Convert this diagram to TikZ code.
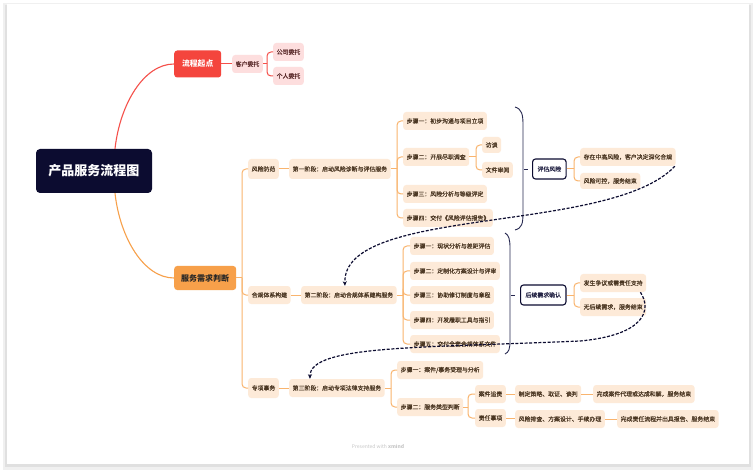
\documentclass[tikz,border=0pt]{standalone}
\usepackage{fontspec}
\setmainfont{Noto Sans CJK SC}
\newfontfamily\cjkmed{Noto Sans CJK SC}[FakeBold=0.45]
\usetikzlibrary{arrows.meta}
\definecolor{navy}{HTML}{0C0C30}
\definecolor{brknavy}{HTML}{262850}
\definecolor{redmain}{HTML}{F4453D}
\definecolor{redline}{HTML}{F5504A}
\definecolor{pinkfill}{HTML}{FDDEDE}
\definecolor{pinktext}{HTML}{5A2A2A}
\definecolor{orangemain}{HTML}{F7A04A}
\definecolor{orangeline}{HTML}{F9B46E}
\definecolor{peach}{HTML}{FDEAD8}
\definecolor{browntext}{HTML}{4A3622}
\newcommand{\smallcjk}{\cjkmed\fontsize{5.9pt}{7pt}\selectfont}
\begin{document}
\begin{tikzpicture}[x=1pt,y=-1pt,
  base/.style={rounded corners=3pt, inner xsep=3.5pt, inner ysep=0pt, minimum height=18pt, font=\smallcjk, anchor=west},
  pk/.style={base, fill=pinkfill, text=pinktext},
  pc/.style={base, fill=peach, text=browntext},
  pc2/.style={pc, minimum height=20pt},
  rootbox/.style={fill=navy, text=white, rounded corners=4pt, minimum width=116pt, minimum height=44pt, inner sep=0pt, font=\fontsize{13pt}{15pt}\selectfont\bfseries},
  redbox/.style={fill=redmain, text=white, rounded corners=3pt, minimum width=47pt, minimum height=27pt, inner sep=0pt, font=\fontsize{7.8pt}{9pt}\selectfont\bfseries, anchor=west},
  orbox/.style={fill=orangemain, text=black!85, rounded corners=3pt, minimum width=62pt, minimum height=24pt, inner sep=0pt, font=\fontsize{8pt}{9pt}\selectfont\bfseries, anchor=west},
  summ/.style={draw=navy, line width=1.1pt, fill=white, text=navy!90, rounded corners=3pt, inner xsep=5pt, inner ysep=0pt, minimum height=20pt, font=\smallcjk, anchor=west},
  rl/.style={draw=redline, line width=1pt},
  ol/.style={draw=orangeline, line width=1pt},
  olr/.style={ol, rounded corners=4pt},
  rlr/.style={rl, rounded corners=4pt},
  brk/.style={draw=brknavy, line width=0.9pt},
  dasharr/.style={draw=navy, line width=1.2pt, dash pattern=on 3pt off 1.6pt, -{Stealth[length=4.5pt,width=4pt]}}
]
\useasboundingbox (0,0) rectangle (756,476);
% page with shadow
\fill[black!6] (3,3) rectangle (753,470);
\fill[black!12] (5,5) rectangle (751,467);
\fill[white] (7,4) rectangle (749,464);

% root
\node[rootbox] (root) at (94,171) {产品服务流程图};

% branch 1
\node[redbox] (start) at (174,64) {流程起点};
\node[pk] (kh) at (232,64) {客户委托};
\node[pk] (gs) at (273,52) {公司委托};
\node[pk] (gr) at (273,76) {个人委托};
\draw[redline, line width=1.1pt] ([xshift=21pt]root.north) .. controls +(5,-45) and +(-30,0) .. (start.west);
\draw[rl] (start.east) -- (kh.west);
\coordinate (skh) at (267,64);
\draw[rl] (kh.east) -- (skh);
\draw[rlr] (skh) |- (gs.west);
\draw[rlr] (skh) |- (gr.west);

% branch 2
\node[orbox] (bd) at (174,278) {服务需求判断};
\draw[orangemain, line width=1.1pt] ([xshift=21pt]root.south) .. controls +(5,45) and +(-30,0) .. (bd.west);
\coordinate (sp0) at (242,278);
\draw[ol] (bd.east) -- (sp0);

\node[pc2] (l1) at (248,169) {风险防范};
\node[pc] (l2) at (248,295) {合规体系构建};
\node[pc2] (l3) at (248,388) {专项事务};
\draw[olr] (sp0) |- (l1.west);
\draw[olr] (sp0) |- (l2.west);
\draw[olr] (sp0) |- (l3.west);

% phase 1
\node[pc2] (ph1) at (289,169) {第一阶段：启动风险诊断与评估服务};
\draw[ol] (l1.east) -- (ph1.west);
\coordinate (s1) at (397,169);
\draw[ol] (ph1.east) -- (s1);
\node[pc] (a1) at (403,121) {步骤一：初步沟通与项目立项};
\node[pc] (a2) at (403,157) {步骤二：开展尽职调查};
\node[pc] (a3) at (403,194) {步骤三：风险分析与等级评定};
\node[pc] (a4) at (403,218) {步骤四：交付《风险评估报告》};
\foreach \n in {a1,a2,a3,a4} \draw[olr] (s1) |- (\n.west);
\node[pc, minimum height=16pt] (ft) at (482,145) {访谈};
\node[pc, minimum height=16pt] (wj) at (482,170) {文件审阅};
\coordinate (sa2) at (476,157);
\draw[ol] (a2.east) -- (sa2);
\draw[olr] (sa2) |- (ft.west);
\draw[olr] (sa2) |- (wj.west);

\draw[brk] (515,107) .. controls (522,109) and (523,115) .. (523,125) -- (523,212) .. controls (523,224) and (522,228) .. (515,230);
\node[summ] (pg) at (532,169) {评估风险};
\draw[brk] ([xshift=-8pt]pg.west) -- ([xshift=-4pt]pg.west);
\coordinate (spg) at (574,169);
\draw[ol] (pg.east) -- (spg);
\node[pc] (c1) at (580,157) {存在中高风险，客户决定深化合规};
\node[pc, minimum height=16pt] (c2) at (580,181) {风险可控，服务结束};
\draw[olr] (spg) |- (c1.west);
\draw[olr] (spg) |- (c2.west);

% phase 2
\node[pc] (ph2) at (301,295) {第二阶段：启动合规体系建构服务};
\draw[ol] (l2.east) -- (ph2.west);
\coordinate (s2) at (403,295);
\draw[ol] (ph2.east) -- (s2);
\node[pc] (b1) at (410,246) {步骤一：现状分析与差距评估};
\node[pc] (b2) at (410,271) {步骤二：定制化方案设计与评审};
\node[pc] (b3) at (410,295) {步骤三：协助修订制度与章程};
\node[pc] (b4) at (410,320) {步骤四：开发履职工具与指引};
\node[pc] (b5) at (410,344) {步骤五：交付全套合规体系文件};
\foreach \n in {b1,b2,b3,b4,b5} \draw[olr] (s2) |- (\n.west);

\draw[brk] (505,233) .. controls (509,235) and (510,240) .. (510,248) -- (510,340) .. controls (510,349) and (509,352) .. (505,354);
\node[summ] (hx) at (520,295) {后续需求确认};
\draw[brk] ([xshift=-9pt]hx.west) -- ([xshift=-5pt]hx.west);
\coordinate (shx) at (574,295);
\draw[ol] (hx.east) -- (shx);
\node[pc] (d1) at (580,283) {发生争议或需责任支持};
\node[pc] (d2) at (580,307) {无后续需求，服务结束};
\draw[olr] (shx) |- (d1.west);
\draw[olr] (shx) |- (d2.west);

% phase 3
\node[pc] (ph3) at (289,388) {第三阶段：启动专项法律支持服务};
\draw[ol] (l3.east) -- (ph3.west);
\coordinate (s3) at (391,388);
\draw[ol] (ph3.east) -- (s3);
\node[pc] (e1) at (397,370) {步骤一：案件/事务受理与分析};
\node[pc] (e2) at (397,407) {步骤二：服务类型判断};
\draw[olr] (s3) |- (e1.west);
\draw[olr] (s3) |- (e2.west);
\coordinate (se2) at (468,407);
\draw[ol] (e2.east) -- (se2);
\node[pc] (f1) at (475,394) {案件追责};
\node[pc] (f2) at (475,418) {责任事项};
\draw[olr] (se2) |- (f1.west);
\draw[olr] (se2) |- (f2.west);
\node[pc] (g1) at (515,394) {制定策略、取证、谈判};
\node[pc] (g2) at (515,419) {风险排查、方案设计、手续办理};
\draw[ol] (f1.east) -- (g1.west);
\draw[ol] (f2.east) -- (f2.east -| g2.west);
\node[pc] (h1) at (593,394) {完成案件代理或达成和解，服务结束};
\node[pc] (h2) at (617,419) {完成责任流程并出具报告、服务结束};
\draw[ol] (g1.east) -- (h1.west);
\draw[ol] (g2.east) -- (h2.west);

% dashed cross links
\draw[dasharr] ([xshift=-1pt]c1.south east) .. controls (610,235) and (342,205) .. ([xshift=-4pt]ph2.north);
\draw[dasharr] ([xshift=-6pt]d1.south east) .. controls (652,310) and (645,335) .. (580,341) .. controls (420,348) and (310,345) .. ([xshift=-27pt]ph3.north);

% footer
\node[text=black!22, font=\fontsize{5pt}{6pt}\selectfont] (foot) at (378,446) {Presented with \textbf{xmind}};
\end{tikzpicture}
\end{document}
